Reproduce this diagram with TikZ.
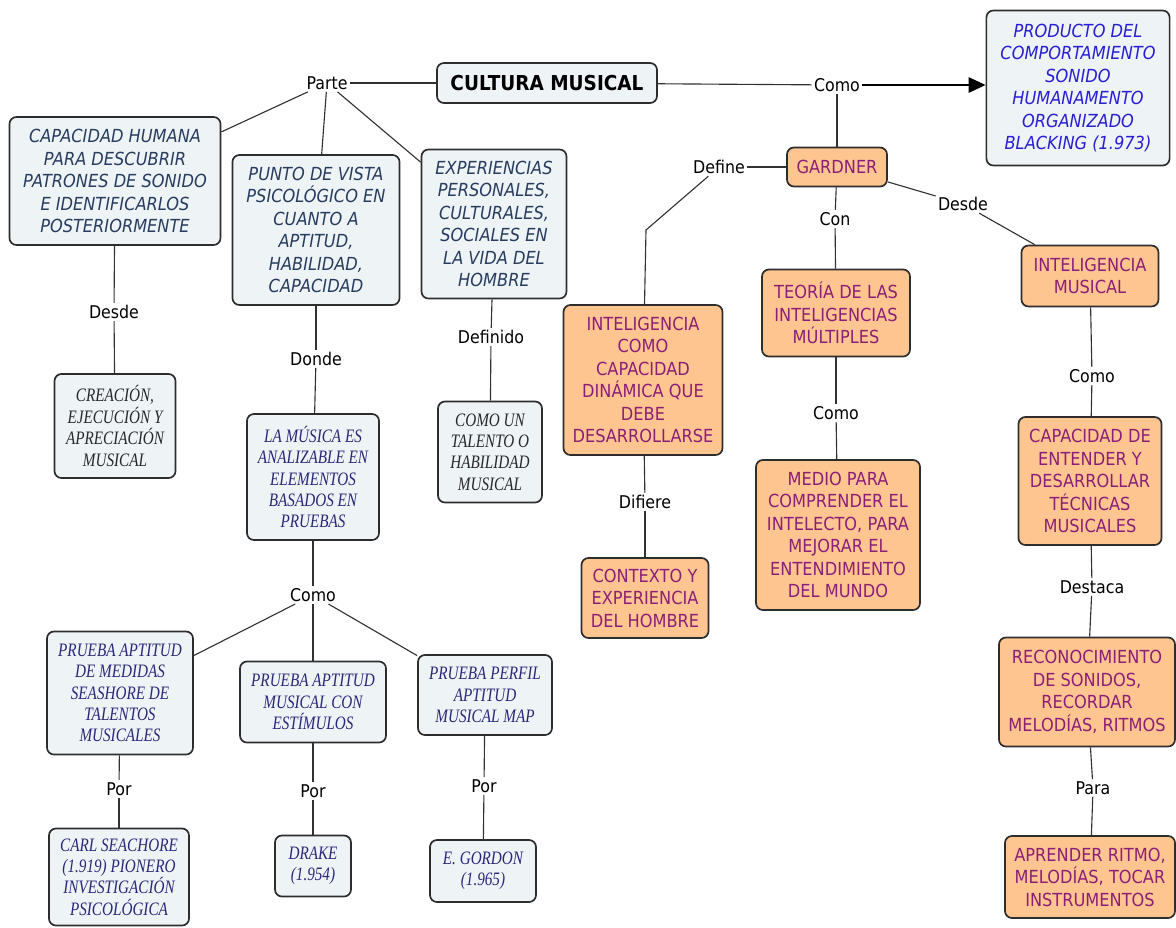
\documentclass[tikz,border=0pt]{standalone}
\usepackage{fontspec}
\setmainfont[FakeStretch=0.9]{DejaVu Sans}
\newfontfamily\timesfont[FakeStretch=0.8]{Liberation Serif}
\usepackage{tikz}
\usetikzlibrary{arrows.meta}

\definecolor{boxfill}{RGB}{238,243,246}
\definecolor{orangefill}{RGB}{255,197,145}
\definecolor{boxline}{RGB}{45,45,45}
\definecolor{linegray}{RGB}{50,50,50}
\definecolor{slatetext}{RGB}{40,60,95}
\definecolor{navytext}{RGB}{40,40,120}
\definecolor{bluetext}{RGB}{40,30,210}
\definecolor{graytext}{RGB}{40,40,40}
\definecolor{purpletext}{RGB}{140,30,120}

\begin{document}
\begin{tikzpicture}[x=0.025cm,y=-0.025cm,
    every edge/.append style={draw=linegray,line width=0.8pt},
    base box/.style={draw=boxline,line width=1.2pt,rounded corners=5pt,align=center,inner sep=2pt},
    light box/.style={base box,fill=boxfill,text=slatetext,font=\fontsize{12.8}{16}\selectfont\itshape},
    serif box/.style={base box,fill=boxfill,text=navytext,font=\timesfont\fontsize{13.5}{15.2}\selectfont\itshape},
    orange box/.style={base box,fill=orangefill,text=purpletext,font=\fontsize{12.8}{16}\selectfont},
    link label/.style={font=\fontsize{12.5}{15}\selectfont,inner sep=1.5pt}]

  \useasboundingbox (0,0) rectangle (1176,927);

  % main concept
  \node[light box,text=black,font=\fontsize{14.6}{17}\selectfont\bfseries,
        minimum width=5.5cm,minimum height=1cm] (cultura) at (547,83) {CULTURA MUSICAL};
  \node[light box,text=bluetext,minimum width=4.58cm,minimum height=3.875cm] (producto) at (1078,88)
    {PRODUCTO DEL\\COMPORTAMIENTO\\SONIDO\\HUMANAMENTO\\ORGANIZADO\\BLACKING (1.973)};

  % left branch
  \node[light box,minimum width=5.275cm,minimum height=3.2cm] (caphum) at (115,181)
    {CAPACIDAD HUMANA\\PARA DESCUBRIR\\PATRONES DE SONIDO\\E IDENTIFICARLOS\\POSTERIORMENTE};
  \node[light box,minimum width=4.175cm,minimum height=3.75cm] (punto) at (316,230)
    {PUNTO DE VISTA\\PSICOLÓGICO EN\\CUANTO A\\APTITUD,\\HABILIDAD,\\CAPACIDAD};
  \node[light box,minimum width=3.625cm,minimum height=3.725cm] (exper) at (494,224)
    {EXPERIENCIAS\\PERSONALES,\\CULTURALES,\\SOCIALES EN\\LA VIDA DEL\\HOMBRE};
  \node[serif box,text=graytext,minimum width=3.025cm,minimum height=2.6cm] (creacion) at (115,426)
    {CREACIÓN,\\EJECUCIÓN Y\\APRECIACIÓN\\MUSICAL};
  \node[serif box,minimum width=3.3cm,minimum height=3.15cm] (lamusica) at (313,477)
    {LA MÚSICA ES\\ANALIZABLE EN\\ELEMENTOS\\BASADOS EN\\PRUEBAS};
  \node[serif box,text=graytext,minimum width=2.6cm,minimum height=2.525cm] (talento) at (490,452)
    {COMO UN\\TALENTO O\\HABILIDAD\\MUSICAL};
  \node[serif box,minimum width=3.65cm,minimum height=3.075cm] (pmedidas) at (120,693)
    {PRUEBA APTITUD\\DE MEDIDAS\\SEASHORE DE\\TALENTOS\\MUSICALES};
  \node[serif box,minimum width=3.65cm,minimum height=2.025cm] (pmusical) at (313,702)
    {PRUEBA APTITUD\\MUSICAL CON\\ESTÍMULOS};
  \node[serif box,minimum width=3.35cm,minimum height=2cm] (pperfil) at (485,695)
    {PRUEBA PERFIL\\APTITUD\\MUSICAL MAP};
  \node[serif box,minimum width=3.5cm,minimum height=2.425cm] (carl) at (119,877)
    {CARL SEACHORE\\(1.919) PIONERO\\INVESTIGACIÓN\\PSICOLÓGICA};
  \node[serif box,minimum width=1.9cm,minimum height=1.525cm] (drake) at (313,866) {DRAKE\\(1.954)};
  \node[serif box,minimum width=2.65cm,minimum height=1.55cm] (gordon) at (483,871) {E. GORDON\\(1.965)};

  % right branch
  \node[orange box,minimum width=2.5cm,minimum height=0.975cm] (gardner) at (837,167) {GARDNER};
  \node[orange box,minimum width=3.975cm,minimum height=3.75cm] (intcomo) at (643,380)
    {INTELIGENCIA\\COMO\\CAPACIDAD\\DINÁMICA QUE\\DEBE\\DESARROLLARSE};
  \node[orange box,minimum width=3.175cm,minimum height=2cm] (contexto) at (645,598)
    {CONTEXTO Y\\EXPERIENCIA\\DEL HOMBRE};
  \node[orange box,minimum width=3.7cm,minimum height=2.175cm] (teoria) at (836,313)
    {TEORÍA DE LAS\\INTELIGENCIAS\\MÚLTIPLES};
  \node[orange box,minimum width=4.1cm,minimum height=3.75cm] (medio) at (838,535)
    {MEDIO PARA\\COMPRENDER EL\\INTELECTO, PARA\\MEJORAR EL\\ENTENDIMIENTO\\DEL MUNDO};
  \node[orange box,minimum width=3.425cm,minimum height=1.525cm] (intmus) at (1090,276)
    {INTELIGENCIA\\MUSICAL};
  \node[orange box,minimum width=3.575cm,minimum height=3.2cm] (capde) at (1090,481)
    {CAPACIDAD DE\\ENTENDER Y\\DESARROLLAR\\TÉCNICAS\\MUSICALES};
  \node[orange box,minimum width=4.4cm,minimum height=2.725cm] (reconoc) at (1087,692)
    {RECONOCIMIENTO\\DE SONIDOS,\\RECORDAR\\MELODÍAS, RITMOS};
  \node[orange box,minimum width=4.25cm,minimum height=2.05cm] (aprender) at (1090,877)
    {APRENDER RITMO,\\MELODÍAS, TOCAR\\INSTRUMENTOS};

  % linking phrases
  \node[link label] (parte) at (327,83) {Parte};
  \node[link label] (como1) at (837,85) {Como};
  \node[link label] (define) at (719,167) {Define};
  \node[link label] (con) at (835,219) {Con};
  \node[link label] (desde2) at (963,204) {Desde};
  \node[link label] (desde1) at (114,312) {Desde};
  \node[link label] (donde) at (316,359) {Donde};
  \node[link label] (definido) at (491,337) {Definido};
  \node[link label] (como2) at (313,595) {Como};
  \node[link label] (por1) at (119,789) {Por};
  \node[link label] (por2) at (313,791) {Por};
  \node[link label] (por3) at (484,786) {Por};
  \node[link label] (difiere) at (645,502) {Difiere};
  \node[link label] (como3) at (836,413) {Como};
  \node[link label] (como4) at (1092,376) {Como};
  \node[link label] (destaca) at (1092,587) {Destaca};
  \node[link label] (para) at (1093,788) {Para};
  \coordinate (defbend) at (646,230);

  \path
    (parte) edge (cultura)
    (cultura) edge (como1)
    (como1) edge[draw=black,-{Triangle[length=12pt,width=11pt]}] (producto.west |- como1)
    (parte) edge (caphum)
    (parte) edge (punto)
    (parte) edge (exper)
    (caphum) edge (desde1)
    (desde1) edge (creacion)
    (punto) edge (donde)
    (donde) edge (lamusica)
    (exper) edge (definido)
    (definido) edge (talento)
    (lamusica) edge (como2)
    (como2) edge (pmedidas)
    (como2) edge (pmusical)
    (como2) edge (pperfil)
    (pmedidas) edge (por1)
    (por1) edge (carl)
    (pmusical) edge (por2)
    (por2) edge (drake)
    (pperfil) edge (por3)
    (por3) edge (gordon)
    (como1) edge (gardner)
    (gardner) edge (define)
    (gardner) edge (con)
    (con) edge (teoria)
    (gardner) edge (desde2)
    (desde2) edge (intmus)
    (intcomo) edge (difiere)
    (difiere) edge (contexto)
    (teoria) edge (como3)
    (como3) edge (medio)
    (intmus) edge (como4)
    (como4) edge (capde)
    (capde) edge (destaca)
    (destaca) edge (reconoc)
    (reconoc) edge (para)
    (para) edge (aprender);
  \draw[draw=linegray,line width=0.8pt] (define) -- (defbend) -- (intcomo);
\end{tikzpicture}
\end{document}
